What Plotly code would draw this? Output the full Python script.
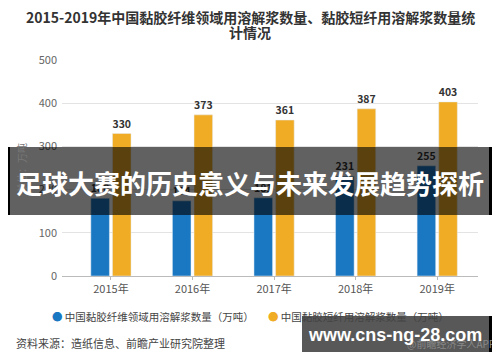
import plotly.graph_objects as go

years = ["2015年", "2016年", "2017年", "2018年", "2019年"]
viscose_field = [180, 174, 181, 231, 255]
viscose_staple = [330, 373, 361, 387, 403]
series_names = ["中国黏胶纤维领域用溶解浆数量（万吨）", "中国黏胶短纤用溶解浆数量（万吨）"]
y_ticks = [0, 100, 200, 300, 400, 500]

BLUE = "#1a78c2"
YELLOW = "#f0ac24"
FONT = "Noto Sans CJK SC"

# page offset compensation (browser body margin)
OFF = 8
L, T, W, H = 62 - OFF, 60 - OFF, 416, 216
R = 500 - L - W
B = 362 - T - H


def px(xr):
    return (xr - OFF - L) / W


def py(yr):
    return (T + H - (yr - OFF)) / H


fig = go.Figure()
fig.add_trace(go.Bar(x=years, y=viscose_field, name=series_names[0], marker_color=BLUE,
                     text=viscose_field, texttemplate="<b>%{text}</b>", textposition="outside",
                     textfont=dict(size=11, color="#333", family=FONT), cliponaxis=False,
                     showlegend=False))
fig.add_trace(go.Bar(x=years, y=viscose_staple, name=series_names[1], marker_color=YELLOW,
                     text=viscose_staple, texttemplate="<b>%{text}</b>", textposition="outside",
                     textfont=dict(size=11, color="#333", family=FONT), cliponaxis=False,
                     showlegend=False))

fig.update_layout(
    width=500, height=362,
    margin=dict(l=L, r=R, t=T, b=B),
    paper_bgcolor="white", plot_bgcolor="white",
    barmode="group", bargap=0.47, bargroupgap=0.14,
    font=dict(family=FONT, color="#555"),
    showlegend=False,
)
fig.update_xaxes(range=[-0.6, 4.5], showline=True, linecolor="#bbb", linewidth=1,
                 ticks="outside", ticklen=3, tickcolor="#bbb", automargin=False,
                 tickfont=dict(size=11, color="#555", family=FONT), showgrid=False)
fig.update_yaxes(range=[0, 500], tickvals=y_ticks, showgrid=True, gridcolor="#e3e3e3",
                 tickfont=dict(size=11, color="#666", family=FONT), zeroline=False,
                 ticklabelstandoff=4, automargin=False,
                 title=dict(text="单位：万吨", font=dict(size=10, color="#777", family=FONT), standoff=10))

# title (two lines, tight spacing)
fig.add_annotation(text="<b>2015-2019年中国黏胶纤维领域用溶解浆数量、黏胶短纤用溶解浆数量统</b>",
                   xref="paper", yref="paper", x=px(250), xanchor="center",
                   y=py(17), yanchor="middle", showarrow=False,
                   font=dict(size=14, color="#333", family=FONT))
fig.add_annotation(text="<b>计情况</b>",
                   xref="paper", yref="paper", x=px(250), xanchor="center",
                   y=py(32), yanchor="middle", showarrow=False,
                   font=dict(size=14, color="#333", family=FONT))

# legend-like annotations
fig.add_annotation(text=f"<span style='color:{BLUE}'>●</span> {series_names[0]}",
                   xref="paper", yref="paper", x=px(50), xanchor="left", y=py(316), yanchor="middle",
                   showarrow=False, font=dict(size=10.5, color="#444", family=FONT))
fig.add_annotation(text=f"<span style='color:{YELLOW}'>●</span> {series_names[1]}",
                   xref="paper", yref="paper", x=px(266), xanchor="left", y=py(316), yanchor="middle",
                   showarrow=False, font=dict(size=10.5, color="#444", family=FONT))
fig.add_annotation(text="资料来源：造纸信息、前瞻产业研究院整理",
                   xref="paper", yref="paper", x=px(14), xanchor="left", y=py(343), yanchor="middle",
                   showarrow=False, font=dict(size=11, color="#444", family=FONT))
fig.add_annotation(text="@前瞻经济学人APP",
                   xref="paper", yref="paper", x=px(497), xanchor="right", y=py(343), yanchor="middle",
                   showarrow=False, font=dict(size=10, color="#888", family=FONT))

# overlay band
fig.add_shape(type="rect", xref="paper", yref="paper", x0=px(7), x1=px(493),
              y0=py(215), y1=py(147), fillcolor="rgba(0,0,0,0.62)", line_width=0, layer="above")
fig.add_shape(type="rect", xref="paper", yref="paper", x0=px(7), x1=px(10),
              y0=py(215), y1=py(147), fillcolor="black", line_width=0, layer="above")
fig.add_shape(type="rect", xref="paper", yref="paper", x0=px(489), x1=px(493),
              y0=py(215), y1=py(147), fillcolor="black", line_width=0, layer="above")
fig.add_annotation(text="<b>足球大赛的历史意义与未来发展趋势探析</b>",
                   xref="paper", yref="paper", x=px(250), xanchor="center",
                   y=py(182), yanchor="middle", showarrow=False,
                   font=dict(size=26, color="white", family=FONT))

# bottom-right box
fig.add_shape(type="rect", xref="paper", yref="paper", x0=px(302), x1=px(492),
              y0=py(352), y1=py(316), fillcolor="rgba(70,70,70,0.9)", line_width=0, layer="above")
fig.add_shape(type="rect", xref="paper", yref="paper", x0=px(489), x1=px(492),
              y0=py(352), y1=py(316), fillcolor="black", line_width=0, layer="above")
fig.add_annotation(text="<b>www.cns-ng-28.com</b>",
                   xref="paper", yref="paper", x=px(395), xanchor="center",
                   y=py(335), yanchor="middle", showarrow=False,
                   font=dict(size=18, color="white", family="Liberation Sans"))

fig.write_html("out.html")
